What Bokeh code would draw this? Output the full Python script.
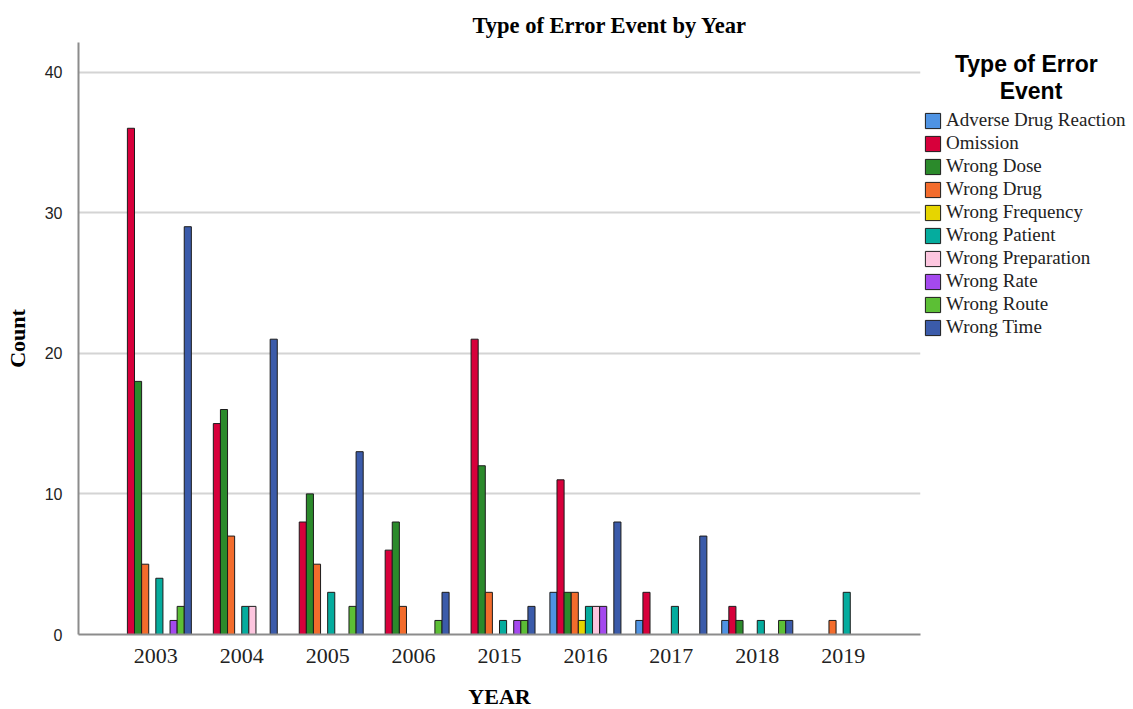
from bokeh.plotting import figure
from bokeh.models import (FactorRange, Range1d, Legend, LegendItem,
                          ColumnDataSource, FixedTicker)
from bokeh.transform import dodge
from bokeh.embed import file_html
from bokeh.resources import INLINE

years = ["2003", "2004", "2005", "2006", "2015", "2016", "2017", "2018", "2019"]
error_types = ["Adverse Drug Reaction", "Omission", "Wrong Dose", "Wrong Drug",
               "Wrong Frequency", "Wrong Patient", "Wrong Preparation",
               "Wrong Rate", "Wrong Route", "Wrong Time"]

adverse_drug_reaction = [0, 0, 0, 0, 0, 3, 1, 1, 0]
omission = [36, 15, 8, 6, 21, 11, 3, 2, 0]
wrong_dose = [18, 16, 10, 8, 12, 3, 0, 1, 0]
wrong_drug = [5, 7, 5, 2, 3, 3, 0, 0, 1]
wrong_frequency = [0, 0, 0, 0, 0, 1, 0, 0, 0]
wrong_patient = [4, 2, 3, 0, 1, 2, 2, 1, 3]
wrong_preparation = [0, 2, 0, 0, 0, 2, 0, 0, 0]
wrong_rate = [1, 0, 0, 0, 1, 2, 0, 0, 0]
wrong_route = [2, 0, 2, 1, 1, 0, 0, 1, 0]
wrong_time = [29, 21, 13, 3, 2, 8, 7, 1, 0]

series = [adverse_drug_reaction, omission, wrong_dose, wrong_drug, wrong_frequency,
          wrong_patient, wrong_preparation, wrong_rate, wrong_route, wrong_time]

colors = ["#4F93E3", "#D7003B", "#2B8A2B", "#F36C2C", "#E6D500",
          "#05AC9E", "#FDC6DF", "#A449EE", "#5CBF35", "#3B5BAA"]

y_ticks = [0, 10, 20, 30, 40]

p = figure(frame_width=842, frame_height=592,
           x_range=FactorRange(factors=years, range_padding=0.8 / 9),
           y_range=Range1d(0, 42.1),
           output_backend="svg", toolbar_location=None,
           min_border_left=78, min_border_right=0,
           min_border_top=42, min_border_bottom=75)

p.outline_line_color = None
p.background_fill_color = "white"
p.border_fill_color = "white"

slot = 0.0827
items = []
for i, (name, vals, col) in enumerate(zip(error_types, series, colors)):
    xs = [y for y, v in zip(years, vals) if v > 0]
    vs = [v for v in vals if v > 0]
    src = ColumnDataSource(dict(year=xs, count=vs))
    r = p.vbar(x=dodge("year", (i - 4.5) * slot, range=p.x_range), top="count",
               width=slot, source=src, fill_color=col, line_color="#1c1c1c",
               line_width=1)
    items.append(LegendItem(label=name, renderers=[r]))

# axes
p.xaxis.axis_label = "YEAR"
p.yaxis.axis_label = "Count"
for ax in (p.xaxis[0], p.yaxis[0]):
    ax.axis_line_color = "#8c8c8c"
    ax.axis_line_width = 2
    ax.major_tick_line_color = None
    ax.minor_tick_line_color = None
    ax.axis_label_text_font = "Liberation Serif"
    ax.axis_label_text_font_style = "bold"
    ax.axis_label_text_font_size = "22px"
    ax.axis_label_text_color = "black"

p.yaxis.ticker = FixedTicker(ticks=y_ticks)
p.yaxis.major_label_text_font = "Liberation Sans"
p.yaxis.major_label_text_font_size = "16px"
p.yaxis.major_label_text_color = "#222222"
p.yaxis.major_label_standoff = 10
p.yaxis.axis_label_standoff = 12

p.xaxis.major_label_text_font = "Liberation Serif"
p.xaxis.major_label_text_font_size = "22px"
p.xaxis.major_label_text_color = "#222222"
p.xaxis.major_label_standoff = 8
p.xaxis.axis_label_standoff = 18

p.xgrid.grid_line_color = None
p.ygrid.grid_line_color = "#d4d4d4"
p.ygrid.grid_line_width = 2
p.ygrid.ticker = FixedTicker(ticks=[10, 20, 30, 40])

# title
p.title.text = "Type of Error Event by Year"
p.title.text_font = "Liberation Serif"
p.title.text_font_style = "bold"
p.title.text_font_size = "22.5px"
p.title.align = "left"
p.title.offset = 394
p.title.text_color = "black"

nb = "\u00a0"
legend = Legend(items=items, location=(3, 296), margin=0, padding=0,
                spacing=1, glyph_width=19, glyph_height=19, label_height=20,
                label_standoff=4, border_line_color=None,
                background_fill_alpha=0,
                title=nb * 5 + "Type of Error\n" + nb * 12 + "Event",
                title_standoff=4,
                title_text_font="Liberation Sans", title_text_font_style="bold",
                title_text_font_size="23px", title_text_color="black",
                label_text_font="Liberation Serif", label_text_font_size="19px",
                label_text_color="#222222")
p.add_layout(legend, "right")

open("out.html", "w").write(file_html(p, INLINE))
